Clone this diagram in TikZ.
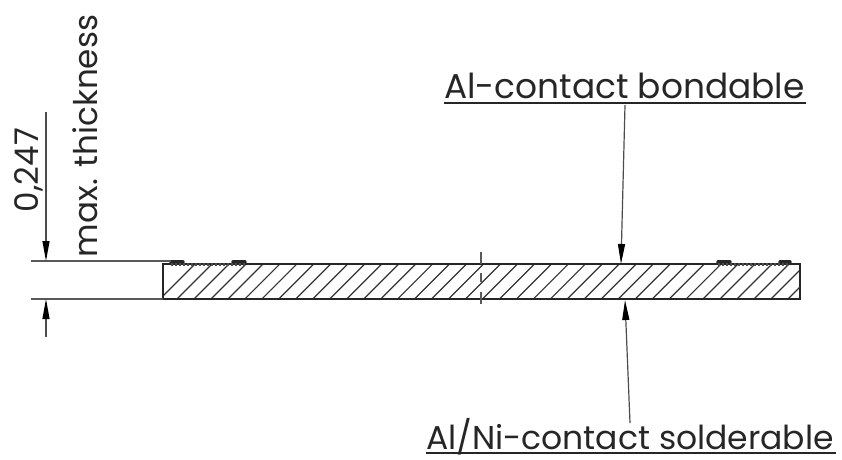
\documentclass[tikz,border=0pt]{standalone}
\usepackage{fontspec}
\setmainfont{Poppins}
\usetikzlibrary{arrows.meta}
\begin{document}
\begin{tikzpicture}[x=1pt,y=-1pt,
  every node/.style={inner sep=0pt,outer sep=0pt},
  lbl/.style={font=\fontsize{32.6}{33}\selectfont,anchor=base west,text=black!85},
  dimarrow/.style={line width=1.2pt,draw=black!70,-{Triangle[length=20pt,width=7pt,fill=black,color=black]}},
  thinline/.style={line width=1.2pt,draw=black!65},
  hatch/.style={line width=1.2pt,draw=black!80},
  outline/.style={line width=1.4pt,draw=black!85}]
\useasboundingbox (0,0) rectangle (842,459);
% labels
\node[lbl,font=\fontsize{34.4}{34}\selectfont] (top) at (444,98) {Al-contact bondable};
\node[lbl,font=\fontsize{33}{33}\selectfont] (bot) at (426,449) {Al/Ni-contact solderable};
\node[lbl,rotate=90] (dim) at (38,212) {0,247};
\node[lbl,rotate=90] (max) at (97,257) {max. thickness};
\draw[line width=1.8pt,black!85] (444,103) -- (806,103);
\draw[line width=1.8pt,black!85] (426,453) -- (836,453);
% hatching
\begin{scope}
\clip (163,264) rectangle (800,299);
\foreach \k in {-1,...,37}
  \draw[hatch] ({177+16.97*\k},299) -- ({212+16.97*\k},264);
\end{scope}
% plate
\draw[outline] (163,264) rectangle (800,299);
\draw[line width=2pt,black!85] (183,264) -- (718,264);
% contacts
\foreach \a/\b in {171/183,233/245,718/730,780/790}
  \draw[line width=3.4pt,black!85,line cap=round] (\a,262) -- (\b,262);
\foreach \a/\b in {171/245,718/790}
  \draw[line width=2.6pt,black!70,dash pattern=on 2pt off 2pt] (\a,264.5) -- (\b,264.5);
% centre mark
\draw[thinline] (481,252) -- (481,264);
\draw[thinline] (481,273) -- (481,282);
\draw[thinline] (481,292) -- (481,304);
% dimension
\coordinate (dimtop) at (46,261);
\coordinate (dimbot) at (46,299);
\draw[thinline] (31,261) -- (171,261);
\draw[thinline] (31,299) -- (163,299);
\draw[dimarrow] (46,112) -- (dimtop);
\draw[dimarrow] (46,337) -- (dimbot);
% leaders
\coordinate (topfoot) at (625,105);
\coordinate (toptip) at (621,264);
\coordinate (botfoot) at (630,423);
\coordinate (bottip) at (625,300);
\draw[dimarrow] (topfoot) -- (toptip);
\draw[dimarrow] (botfoot) -- (bottip);
\end{tikzpicture}
\end{document}
